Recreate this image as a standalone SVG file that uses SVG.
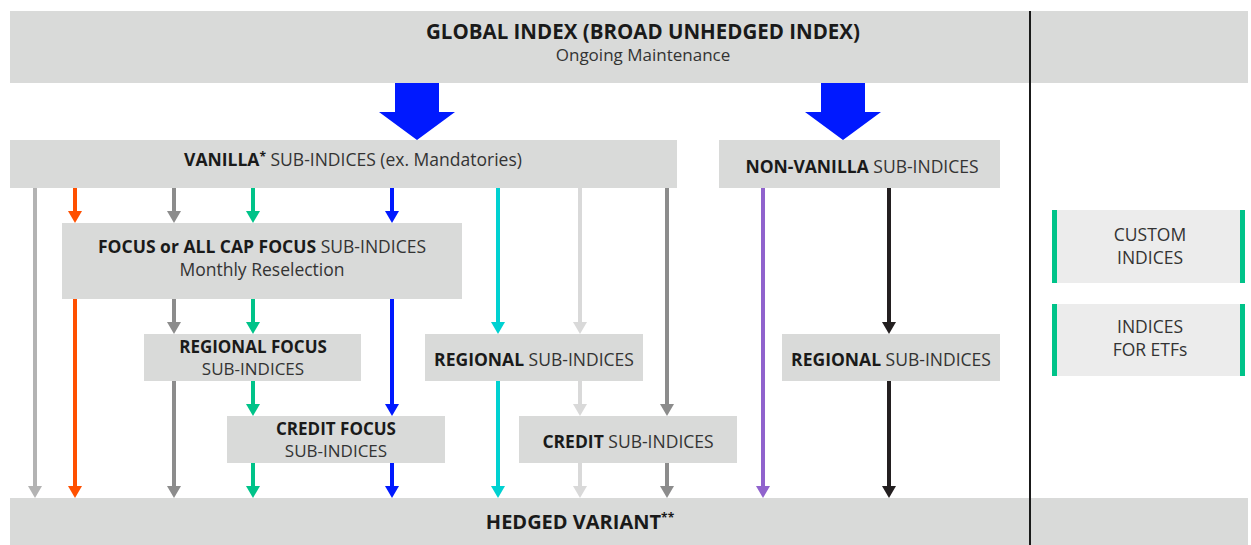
<svg xmlns="http://www.w3.org/2000/svg" width="1251" height="545" viewBox="0 0 1251 545">
<style>
text{font-family:"Open Sans","Liberation Sans",sans-serif;fill:#333;text-anchor:middle}
.b{font-weight:700;fill:#1a1a1a}
.box{fill:#d9dad9}
.side{fill:#ececec}
.bar{fill:#00c389}
.t{font-size:17.5px}
.t2{font-size:17px}
.c{fill:none;stroke-width:4}
</style>
<defs>
<marker id="m-lg" viewBox="0 0 12 14" refX="6" refY="7" markerWidth="12" markerHeight="14" markerUnits="userSpaceOnUse" orient="auto"><path d="M0,0 L12,7 L0,14 z" fill="#b3b3b3"/></marker>
<marker id="m-or" viewBox="0 0 12 14" refX="6" refY="7" markerWidth="12" markerHeight="14" markerUnits="userSpaceOnUse" orient="auto"><path d="M0,0 L12,7 L0,14 z" fill="#ff5000"/></marker>
<marker id="m-gr" viewBox="0 0 12 14" refX="6" refY="7" markerWidth="12" markerHeight="14" markerUnits="userSpaceOnUse" orient="auto"><path d="M0,0 L12,7 L0,14 z" fill="#8c8c8c"/></marker>
<marker id="m-gn" viewBox="0 0 12 14" refX="6" refY="7" markerWidth="12" markerHeight="14" markerUnits="userSpaceOnUse" orient="auto"><path d="M0,0 L12,7 L0,14 z" fill="#00c389"/></marker>
<marker id="m-bl" viewBox="0 0 12 14" refX="6" refY="7" markerWidth="12" markerHeight="14" markerUnits="userSpaceOnUse" orient="auto"><path d="M0,0 L12,7 L0,14 z" fill="#0019ff"/></marker>
<marker id="m-cy" viewBox="0 0 12 14" refX="6" refY="7" markerWidth="12" markerHeight="14" markerUnits="userSpaceOnUse" orient="auto"><path d="M0,0 L12,7 L0,14 z" fill="#00d1d1"/></marker>
<marker id="m-vl" viewBox="0 0 12 14" refX="6" refY="7" markerWidth="12" markerHeight="14" markerUnits="userSpaceOnUse" orient="auto"><path d="M0,0 L12,7 L0,14 z" fill="#d9d9d9"/></marker>
<marker id="m-pu" viewBox="0 0 12 14" refX="6" refY="7" markerWidth="12" markerHeight="14" markerUnits="userSpaceOnUse" orient="auto"><path d="M0,0 L12,7 L0,14 z" fill="#9063cd"/></marker>
<marker id="m-bk" viewBox="0 0 12 14" refX="6" refY="7" markerWidth="12" markerHeight="14" markerUnits="userSpaceOnUse" orient="auto"><path d="M0,0 L12,7 L0,14 z" fill="#231f20"/></marker>
</defs>
<rect width="1251" height="545" fill="#fff"/>

<g id="global">
<rect class="box" x="10" y="11" width="1238" height="72"/>
<text x="643" y="39" class="b" style="font-size:20.5px">GLOBAL INDEX (BROAD UNHEDGED INDEX)</text>
<text x="643" y="61" style="font-size:17px">Ongoing Maintenance</text>
</g>

<g id="hedged">
<rect class="box" x="10" y="498" width="1238" height="47"/>
<text x="580" y="529" class="b" style="font-size:20px">HEDGED VARIANT<tspan style="font-size:12px" dy="-7">**</tspan></text>
</g>

<g id="vanilla">
<rect class="box" x="10" y="140" width="667" height="48"/>
<text x="353" y="166" class="t"><tspan class="b">VANILLA</tspan><tspan class="b" style="font-size:12px" dy="-5">*</tspan><tspan dy="5"> SUB-INDICES (ex. Mandatories)</tspan></text>
</g>

<g id="nonvanilla">
<rect class="box" x="719" y="140" width="281" height="48"/>
<text x="862" y="173" class="t"><tspan class="b">NON-VANILLA</tspan> SUB-INDICES</text>
</g>

<g id="focus">
<rect class="box" x="62" y="223" width="400" height="76"/>
<text x="262" y="253" class="t"><tspan class="b">FOCUS or ALL CAP FOCUS</tspan> SUB-INDICES</text>
<text x="262" y="276" class="t">Monthly Reselection</text>
</g>

<g id="regional-focus">
<rect class="box" x="144" y="334" width="217" height="47"/>
<text x="253" y="353" class="t2 b">REGIONAL FOCUS</text>
<text x="253" y="375" class="t2">SUB-INDICES</text>
</g>

<g id="credit-focus">
<rect class="box" x="227" y="416" width="218" height="47"/>
<text x="336" y="435" class="t2 b">CREDIT FOCUS</text>
<text x="336" y="457" class="t2">SUB-INDICES</text>
</g>

<g id="regional">
<rect class="box" x="425" y="334" width="218" height="47"/>
<text x="534" y="366" class="t"><tspan class="b">REGIONAL</tspan> SUB-INDICES</text>
</g>

<g id="credit">
<rect class="box" x="519" y="416" width="218" height="47"/>
<text x="628" y="448" class="t"><tspan class="b">CREDIT</tspan> SUB-INDICES</text>
</g>

<g id="regional-nv">
<rect class="box" x="782" y="334" width="218" height="47"/>
<text x="891" y="366" class="t"><tspan class="b">REGIONAL</tspan> SUB-INDICES</text>
</g>

<g id="custom">
<rect class="side" x="1052" y="210" width="193" height="73"/>
<rect class="bar" x="1052" y="210" width="5" height="73"/>
<rect class="bar" x="1240" y="210" width="5" height="73"/>
<text x="1150" y="241" class="t">CUSTOM</text>
<text x="1150" y="264" class="t">INDICES</text>
</g>

<g id="etfs">
<rect class="side" x="1052" y="304" width="193" height="72"/>
<rect class="bar" x="1052" y="304" width="5" height="72"/>
<rect class="bar" x="1240" y="304" width="5" height="72"/>
<text x="1150" y="333" class="t">INDICES</text>
<text x="1150" y="356" class="t">FOR ETFs</text>
</g>

<line x1="1030" y1="11" x2="1030" y2="545" stroke="#1a1a1a" stroke-width="2"/>

<g id="connectors">
<polygon points="395,83 439,83 439,112 455,112 417,140 379,112 395,112" fill="#0019ff"/>
<polygon points="821,83 865,83 865,112 881,112 843,140 805,112 821,112" fill="#0019ff"/>

<path class="c" stroke="#b3b3b3" marker-end="url(#m-lg)" d="M35,188 V492"/>

<path class="c" stroke="#ff5000" marker-end="url(#m-or)" d="M75,188 V217"/>
<path class="c" stroke="#ff5000" marker-end="url(#m-or)" d="M75,299 V492"/>

<path class="c" stroke="#8c8c8c" marker-end="url(#m-gr)" d="M174,188 V217"/>
<path class="c" stroke="#8c8c8c" marker-end="url(#m-gr)" d="M174,299 V328"/>
<path class="c" stroke="#8c8c8c" marker-end="url(#m-gr)" d="M174,381 V492"/>

<path class="c" stroke="#00c389" marker-end="url(#m-gn)" d="M253,188 V217"/>
<path class="c" stroke="#00c389" marker-end="url(#m-gn)" d="M253,299 V328"/>
<path class="c" stroke="#00c389" marker-end="url(#m-gn)" d="M253,381 V410"/>
<path class="c" stroke="#00c389" marker-end="url(#m-gn)" d="M253,463 V492"/>

<path class="c" stroke="#0019ff" marker-end="url(#m-bl)" d="M392,188 V217"/>
<path class="c" stroke="#0019ff" marker-end="url(#m-bl)" d="M392,299 V410"/>
<path class="c" stroke="#0019ff" marker-end="url(#m-bl)" d="M392,463 V492"/>

<path class="c" stroke="#00d1d1" marker-end="url(#m-cy)" d="M498,188 V328"/>
<path class="c" stroke="#00d1d1" marker-end="url(#m-cy)" d="M498,381 V492"/>

<path class="c" stroke="#d9d9d9" marker-end="url(#m-vl)" d="M580,188 V328"/>
<path class="c" stroke="#d9d9d9" marker-end="url(#m-vl)" d="M580,381 V410"/>
<path class="c" stroke="#d9d9d9" marker-end="url(#m-vl)" d="M580,463 V492"/>

<path class="c" stroke="#8c8c8c" marker-end="url(#m-gr)" d="M667,188 V410"/>
<path class="c" stroke="#8c8c8c" marker-end="url(#m-gr)" d="M667,463 V492"/>

<path class="c" stroke="#9063cd" marker-end="url(#m-pu)" d="M763,188 V492"/>

<path class="c" stroke="#231f20" marker-end="url(#m-bk)" d="M889,188 V328"/>
<path class="c" stroke="#231f20" marker-end="url(#m-bk)" d="M889,381 V492"/>
</g>
</svg>
